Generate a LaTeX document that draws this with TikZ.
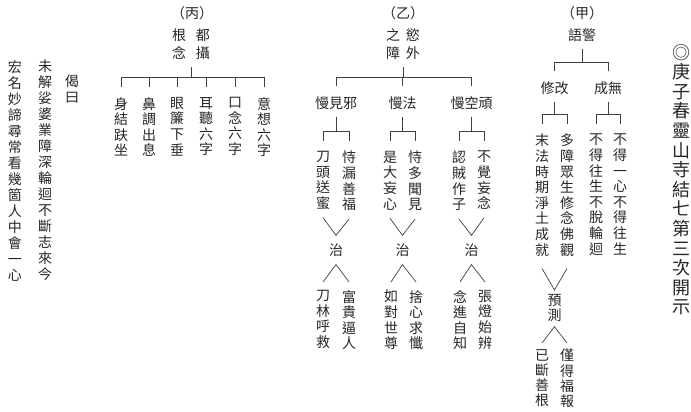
\documentclass[tikz,border=0pt]{standalone}
\usepackage{fontspec}
\newfontfamily\cjk{Noto Sans CJK TC}
\usetikzlibrary{calc}

\tikzset{
  txt/.style={inner sep=0pt, font=\cjk\fontsize{14}{15.6}\selectfont, text=black!85, align=center},
  col/.style={txt, anchor=north},
  root2/.style={txt, font=\cjk\fontsize{14}{18}\selectfont},
  brk/.style={draw=black!75, line width=0.8pt, shorten <=10pt, shorten >=7pt},
  vee/.style={draw=black!75, line width=0.7pt},
}

\begin{document}
\begin{tikzpicture}[x=1pt,y=-1pt]
\useasboundingbox (0,0) rectangle (691,412);

% title
\node[col, font=\cjk\fontsize{18}{19.6}\selectfont] (title) at (681,44) {◎\\庚\\子\\春\\靈\\山\\寺\\結\\七\\第\\三\\次\\開\\示};

% (jia)
\node[txt] (jia) at (582,13) {（甲）};
\node[txt] (jiaroot) at (582,35) {語警};
\node[txt] (xiugai) at (554.5,88) {修改};
\node[txt] (chengwu) at (608,88) {成無};
\draw[brk] (xiugai.north) -- ++(0,-19) -| (jiaroot.south);
\draw[brk] (chengwu.north) -- ++(0,-19) -| (jiaroot.south);

\node[col] (mofa) at (542,134) {末\\法\\時\\期\\淨\\土\\成\\就};
\node[col] (duozhang) at (567,134) {多\\障\\眾\\生\\修\\念\\佛\\觀};
\node[col] (budewang) at (596,134) {不\\得\\往\\生\\不\\脫\\輪\\迴};
\node[col] (budeyi) at (620,134) {不\\得\\一\\心\\不\\得\\往\\生};
\draw[brk] (mofa.north) -- ++(0,-20) -| (xiugai.south);
\draw[brk] (duozhang.north) -- ++(0,-20) -| (xiugai.south);
\draw[brk] (budewang.north) -- ++(0,-20) -| (chengwu.south);
\draw[brk] (budeyi.north) -- ++(0,-20) -| (chengwu.south);

\node[col, font=\cjk\fontsize{14}{15}\selectfont] (yuce) at (554.5,294) {預\\測};
\draw[vee] ($(mofa.south)+(0,12)$) -- ($(yuce.north)+(0,-4)$) -- ($(duozhang.south)+(0,12)$);
\node[col, font=\cjk\fontsize{14}{15.3}\selectfont] (yiduan) at (542,349) {已\\斷\\善\\根};
\node[col, font=\cjk\fontsize{14}{15.3}\selectfont] (jinde) at (567,349) {僅\\得\\福\\報};
\draw[vee] ($(yiduan.north)+(0,-6)$) -- ($(yuce.south)+(0,5)$) -- ($(jinde.north)+(0,-6)$);

% (yi)
\node[txt] (yi) at (403,13) {（乙）};
\node[root2] (yiroot) at (403,44) {之\hspace{6pt}慾\\障\hspace{6pt}外};
\node[txt] (xie) at (336,103) {慢見邪};
\node[txt] (fa) at (402.5,103) {慢法};
\node[txt] (kong) at (471.5,103) {慢空頑};
\draw[brk] (xie.north) -- ++(0,-19) -| (yiroot.south);
\draw[brk] (fa.north) -- ++(0,-19) -| (yiroot.south);
\draw[brk] (kong.north) -- ++(0,-19) -| (yiroot.south);

\node[col] (daotou) at (323,151) {刀\\頭\\送\\蜜};
\node[col] (shilou) at (349,151) {恃\\漏\\善\\福};
\node[col] (shida) at (390,151) {是\\大\\妄\\心};
\node[col] (shiduo) at (415,151) {恃\\多\\聞\\見};
\node[col] (renzei) at (459,151) {認\\賊\\作\\子};
\node[col] (bujue) at (484,151) {不\\覺\\妄\\念};
\draw[brk] (daotou.north) -- ++(0,-20) -| (xie.south);
\draw[brk] (shilou.north) -- ++(0,-20) -| (xie.south);
\draw[brk] (shida.north) -- ++(0,-20) -| (fa.south);
\draw[brk] (shiduo.north) -- ++(0,-20) -| (fa.south);
\draw[brk] (renzei.north) -- ++(0,-20) -| (kong.south);
\draw[brk] (bujue.north) -- ++(0,-20) -| (kong.south);

\node[txt] (zhi1) at (336,250) {治};
\node[txt] (zhi2) at (402.5,250) {治};
\node[txt] (zhi3) at (471.5,250) {治};
\draw[vee] ($(daotou.south)+(0,8)$) -- ($(zhi1.north)+(0,-8)$) -- ($(shilou.south)+(0,8)$);
\draw[vee] ($(shida.south)+(0,8)$) -- ($(zhi2.north)+(0,-8)$) -- ($(shiduo.south)+(0,8)$);
\draw[vee] ($(renzei.south)+(0,8)$) -- ($(zhi3.north)+(0,-8)$) -- ($(bujue.south)+(0,8)$);

\node[col] (daolin) at (323,290) {刀\\林\\呼\\救};
\node[col] (fugui) at (349,290) {富\\貴\\逼\\人};
\node[col] (rudui) at (391,290) {如\\對\\世\\尊};
\node[col] (shexin) at (416,290) {捨\\心\\求\\懺};
\node[col] (nianjin) at (460,290) {念\\進\\自\\知};
\node[col] (zhangdeng) at (485,290) {張\\燈\\始\\辨};
\draw[vee] ($(daolin.north)+(0,-8)$) -- ($(zhi1.south)+(0,8)$) -- ($(fugui.north)+(0,-8)$);
\draw[vee] ($(rudui.north)+(0,-8)$) -- ($(zhi2.south)+(0,8)$) -- ($(shexin.north)+(0,-8)$);
\draw[vee] ($(nianjin.north)+(0,-8)$) -- ($(zhi3.south)+(0,8)$) -- ($(zhangdeng.north)+(0,-8)$);

% (bing)
\node[txt] (bing) at (192,13) {（丙）};
\node[root2] (bingroot) at (191,44) {根\hspace{10pt}都\\念\hspace{10pt}攝};
\node[col] (shen) at (121,97) {身\\結\\趺\\坐};
\node[col] (bi) at (149,97) {鼻\\調\\出\\息};
\node[col] (yan) at (177,97) {眼\\簾\\下\\垂};
\node[col] (er) at (206,97) {耳\\聽\\六\\字};
\node[col] (kou) at (235,97) {口\\念\\六\\字};
\node[col] (yixiang) at (264,97) {意\\想\\六\\字};
\draw[brk] (shen.north) -- ++(0,-20) -| (bingroot.south);
\draw[brk] (bi.north) -- ++(0,-20) -| (bingroot.south);
\draw[brk] (yan.north) -- ++(0,-20) -| (bingroot.south);
\draw[brk] (er.north) -- ++(0,-20) -| (bingroot.south);
\draw[brk] (kou.north) -- ++(0,-20) -| (bingroot.south);
\draw[brk] (yixiang.north) -- ++(0,-20) -| (bingroot.south);

% verse
\node[col, font=\cjk\fontsize{14}{16}\selectfont] (jieyue) at (72,75) {偈\\曰};
\node[col, font=\cjk\fontsize{14}{16}\selectfont] (verse1) at (45,60) {未\\解\\娑\\婆\\業\\障\\深\\輪\\迴\\不\\斷\\志\\來\\今};
\node[col, font=\cjk\fontsize{14}{16}\selectfont] (verse2) at (15,60) {宏\\名\\妙\\諦\\尋\\常\\看\\幾\\箇\\人\\中\\會\\一\\心};
\end{tikzpicture}
\end{document}
